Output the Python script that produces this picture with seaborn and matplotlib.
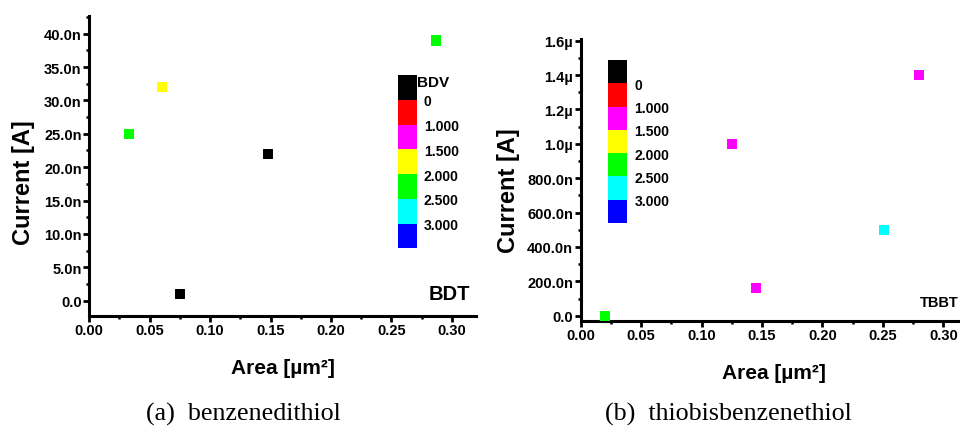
import matplotlib
matplotlib.use("Agg")
import matplotlib.pyplot as plt
import matplotlib.colors as mcolors
import matplotlib.colorbar as mcolorbar
from matplotlib.ticker import MultipleLocator, FuncFormatter
import numpy as np
import pandas as pd
import seaborn as sns

# Breakdown-voltage bands (top of the colour key to bottom)
band_names = ["<0", "0-1", "1-1.5", "1.5-2", "2-2.5", "2.5-3", ">3"]
band_colors = ["#000000", "#FF0000", "#FF00FF", "#FFFF00", "#00FF00", "#00FFFF", "#0000FF"]
band_edge_labels = ["0", "1.000", "1.500", "2.000", "2.500", "3.000"]

# (a) benzenedithiol junctions
bdt_area = [0.033, 0.060, 0.148, 0.075, 0.287]          # µm²
bdt_current = [25e-9, 32e-9, 22e-9, 1e-9, 39e-9]        # A
bdt_band = ["2-2.5", "1.5-2", "<0", "<0", "2-2.5"]

# (b) thiobisbenzenethiol junctions
tbbt_area = [0.020, 0.125, 0.145, 0.251, 0.280]          # µm²
tbbt_current = [0.0, 1.0e-6, 0.16e-6, 0.5e-6, 1.4e-6]    # A
tbbt_band = ["2-2.5", "1-1.5", "1-1.5", "2.5-3", "1-1.5"]

sns.set_style("ticks")
plt.rcParams["font.family"] = ["Liberation Sans", "DejaVu Sans"]
plt.rcParams["font.weight"] = "bold"
for key in ("text.color", "axes.labelcolor", "xtick.color", "ytick.color"):
    plt.rcParams[key] = "black"

palette = dict(zip(band_names, band_colors))

fig = plt.figure(figsize=(9.6, 4.27), dpi=100)
ax1 = fig.add_axes([0.0930, 0.2583, 0.4029, 0.7027])
ax2 = fig.add_axes([0.6049, 0.2466, 0.4029, 0.6597])


def fmt_nano(v, pos):
    if abs(v) < 1e-15:
        return "0.0"
    return f"{v * 1e9:.1f}n"


def fmt_micro(v, pos):
    if abs(v) < 1e-15:
        return "0.0"
    if v >= 1e-6 - 1e-12:
        return f"{v * 1e6:.1f}\u00b5"
    return f"{v * 1e9:.1f}n"


def style_axes(ax):
    for side in ("top", "right"):
        ax.spines[side].set_visible(False)
    for side in ("left", "bottom"):
        ax.spines[side].set_linewidth(2.2)
        ax.spines[side].set_color("black")
    ax.tick_params(which="major", direction="out", length=4, width=2,
                   labelsize=10.5, pad=1.5, color="black")
    ax.tick_params(which="minor", direction="out", length=2.5, width=1.8,
                   color="black")
    ax.xaxis.set_major_locator(MultipleLocator(0.05))
    ax.xaxis.set_minor_locator(MultipleLocator(0.025))
    ax.xaxis.set_major_formatter(FuncFormatter(lambda v, p: f"{v:.2f}"))
    ax.set_xlim(0, 0.32)
    ax.set_xlabel("Area [\u00b5m\u00b2]", fontsize=15, fontweight="bold", labelpad=15)
    ax.set_ylabel("Current [A]", fontsize=17, fontweight="bold")


df1 = pd.DataFrame({"area": bdt_area, "current": bdt_current, "band": bdt_band})
df2 = pd.DataFrame({"area": tbbt_area, "current": tbbt_current, "band": tbbt_band})

sns.scatterplot(data=df1, x="area", y="current", hue="band", palette=palette,
                marker="s", s=55, linewidth=0, legend=False, ax=ax1, zorder=3)
sns.scatterplot(data=df2, x="area", y="current", hue="band", palette=palette,
                marker="s", s=55, linewidth=0, legend=False, ax=ax2, zorder=3)

style_axes(ax1)
ax1.set_ylim(-2.25e-9, 42.7e-9)
ax1.yaxis.set_major_locator(MultipleLocator(5e-9))
ax1.yaxis.set_minor_locator(MultipleLocator(2.5e-9))
ax1.yaxis.set_major_formatter(FuncFormatter(fmt_nano))
ax1.yaxis.set_label_coords(-0.140, 0.446)
ax1.text(0.985, 0.075, "BDT", transform=ax1.transAxes, ha="right", va="center",
         fontsize=14.5, fontweight="bold")

style_axes(ax2)
ax2.set_ylim(-0.029e-6, 1.61e-6)
ax2.yaxis.set_major_locator(MultipleLocator(0.2e-6))
ax2.yaxis.set_minor_locator(MultipleLocator(0.1e-6))
ax2.yaxis.set_major_formatter(FuncFormatter(fmt_micro))
ax2.yaxis.set_label_coords(-0.156, 0.464)
ax2.text(0.977, 0.065, "TBBT", transform=ax2.transAxes, ha="right", va="center",
         fontsize=10.5, fontweight="bold")

for ax in (ax1, ax2):
    for lab in ax.get_xticklabels() + ax.get_yticklabels():
        lab.set_fontweight("bold")

# Discrete colour keys for the breakdown voltage
cmap = mcolors.ListedColormap(band_colors[::-1])
norm = mcolors.BoundaryNorm(np.arange(len(band_colors) + 1), cmap.N)
edge_pos = np.arange(1, len(band_colors))
edge_text = band_edge_labels[::-1]


def colour_key(rect):
    cax = fig.add_axes(rect)
    cb = mcolorbar.ColorbarBase(cax, cmap=cmap, norm=norm, orientation="vertical")
    cb.outline.set_visible(False)
    cb.set_ticks(edge_pos)
    cb.set_ticklabels(edge_text)
    cb.minorticks_off()
    cax.tick_params(which="both", length=0, labelsize=10, pad=5)
    for lab in cax.get_yticklabels():
        lab.set_fontweight("bold")
    return cax


cax1 = colour_key([0.4146, 0.4162, 0.0198, 0.4052])
cax1.text(1.0, 1.0, "BDV", transform=cax1.transAxes, ha="left", va="top",
          fontsize=11, fontweight="bold")
colour_key([0.6336, 0.4754, 0.0198, 0.3817])

fig.text(0.254, 0.030, "(a)  benzenedithiol", ha="center", va="center",
         fontsize=18.7, family=["Liberation Serif", "DejaVu Serif"], fontweight="normal")
fig.text(0.759, 0.030, "(b)  thiobisbenzenethiol", ha="center", va="center",
         fontsize=18.7, family=["Liberation Serif", "DejaVu Serif"], fontweight="normal")

fig.savefig("out.png", dpi=100)
